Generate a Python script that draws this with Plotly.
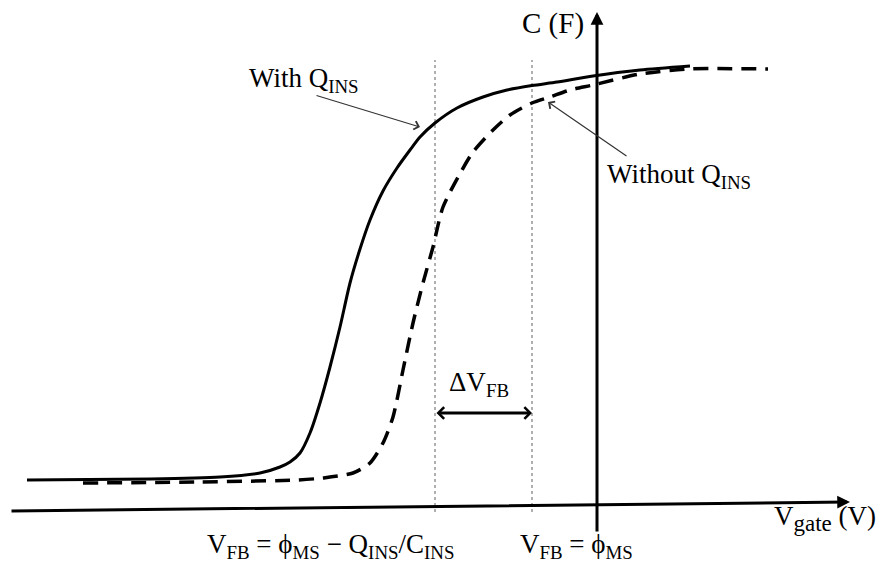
import plotly.graph_objects as go

# C-V curves (gate voltage in V, capacitance in arbitrary units)
v_with = [-5.70, -4.47, -3.77, -3.37, -3.17, -3.07, -2.97, -2.87, -2.77, -2.67, -2.57,
          -2.47, -2.37, -2.27, -2.14, -2.00, -1.87, -1.77, -1.62, -1.40, -1.14, -0.90,
          -0.65, -0.40, -0.04, 0.43, 0.93]
c_with = [0.30, 0.31, 0.33, 0.37, 0.43, 0.48, 0.57, 0.77, 1.07, 1.43, 1.83,
          2.27, 2.61, 2.90, 3.19, 3.42, 3.60, 3.73, 3.87, 4.02, 4.13, 4.20,
          4.245, 4.28, 4.34, 4.40, 4.44]

v_without = [-5.14, -3.97, -3.00, -2.74, -2.44, -2.27, -2.14, -2.04, -1.94, -1.84, -1.74,
             -1.64, -1.54, -1.35, -1.24, -1.04, -0.87, -0.65, -0.47, -0.27, -0.04, 0.43,
             0.93, 1.71]
c_without = [0.27, 0.28, 0.30, 0.32, 0.37, 0.47, 0.67, 0.93, 1.40, 1.87, 2.27,
             2.63, 3.03, 3.40, 3.58, 3.80, 3.95, 4.07, 4.13, 4.20, 4.25, 4.36,
             4.41, 4.41]

# flat-band voltages
vfb_with_q = -1.62
vfb_without_q = -0.65

SERIF = "Liberation Serif"

fig = go.Figure()

fig.add_trace(go.Scatter(
    x=v_with, y=c_with, mode="lines",
    line=dict(color="black", width=3, shape="spline", smoothing=0.7),
    hoverinfo="skip", showlegend=False))

fig.add_trace(go.Scatter(
    x=v_without, y=c_without, mode="lines",
    line=dict(color="black", width=3.5, shape="spline", smoothing=0.7, dash="15px,9px"),
    hoverinfo="skip", showlegend=False))

# dotted markers at the two flat-band voltages
for v in (vfb_with_q, vfb_without_q):
    fig.add_shape(type="line", x0=v, x1=v, y0=-0.02, y1=4.50,
                  line=dict(color="#b0b0b0", width=2, dash="dot"), layer="below")

annotations = []

def arrow(x, y, ax, ay, width, head, size, color="black", side="end"):
    annotations.append(dict(
        x=x, y=y, ax=ax, ay=ay, xref="x", yref="y", axref="x", ayref="y",
        text="", showarrow=True, arrowhead=head, arrowsize=size, arrowwidth=width,
        arrowcolor=color, arrowside=side, standoff=0, startstandoff=0))

# axes with arrowheads
arrow(2.53, 0.08, -5.87, -0.01, 3, 2, 0.85)
arrow(0.0, 4.98, 0.0, -0.23, 3, 2, 0.85)

# delta V_FB double arrow
arrow(vfb_without_q, 0.97, vfb_with_q, 0.97, 3, 4, 0.75, side="end+start")

# pointer arrows for the curve labels
arrow(-1.77, 3.83, -2.82, 4.15, 1.2, 4, 1.4, color="#333333")
arrow(-0.49, 4.08, 0.31, 3.53, 1.2, 4, 1.4, color="#333333")

def label(x, y, text, size=27):
    annotations.append(dict(
        x=x, y=y, xref="x", yref="y", text=text, showarrow=False,
        xanchor="left", yanchor="middle",
        font=dict(family=SERIF, size=size, color="black")))

label(-3.50, 4.30, "With Q<sub>INS</sub>")
label(0.08, 3.34, "Without Q<sub>INS</sub>")
label(-0.77, 4.87, "C (F)", size=29)
label(-1.50, 1.26, "ΔV<sub>FB</sub>")
label(-3.92, -0.36, "V<sub>FB</sub> = ϕ<sub>MS</sub> − Q<sub>INS</sub>/C<sub>INS</sub>")
label(-0.79, -0.36, "V<sub>FB</sub> = ϕ<sub>MS</sub>")
label(1.75, -0.08, "V<sub><span style='font-size:23px'>gate</span></sub> (V)", size=27)

fig.update_layout(
    width=890, height=568,
    margin=dict(l=0, r=0, t=0, b=0),
    paper_bgcolor="white", plot_bgcolor="white",
    xaxis=dict(range=[-5.97, 2.93], visible=False, fixedrange=True),
    yaxis=dict(range=[-0.58, 5.10], visible=False, fixedrange=True),
    annotations=annotations,
    showlegend=False,
)

fig.write_html("out.html")
